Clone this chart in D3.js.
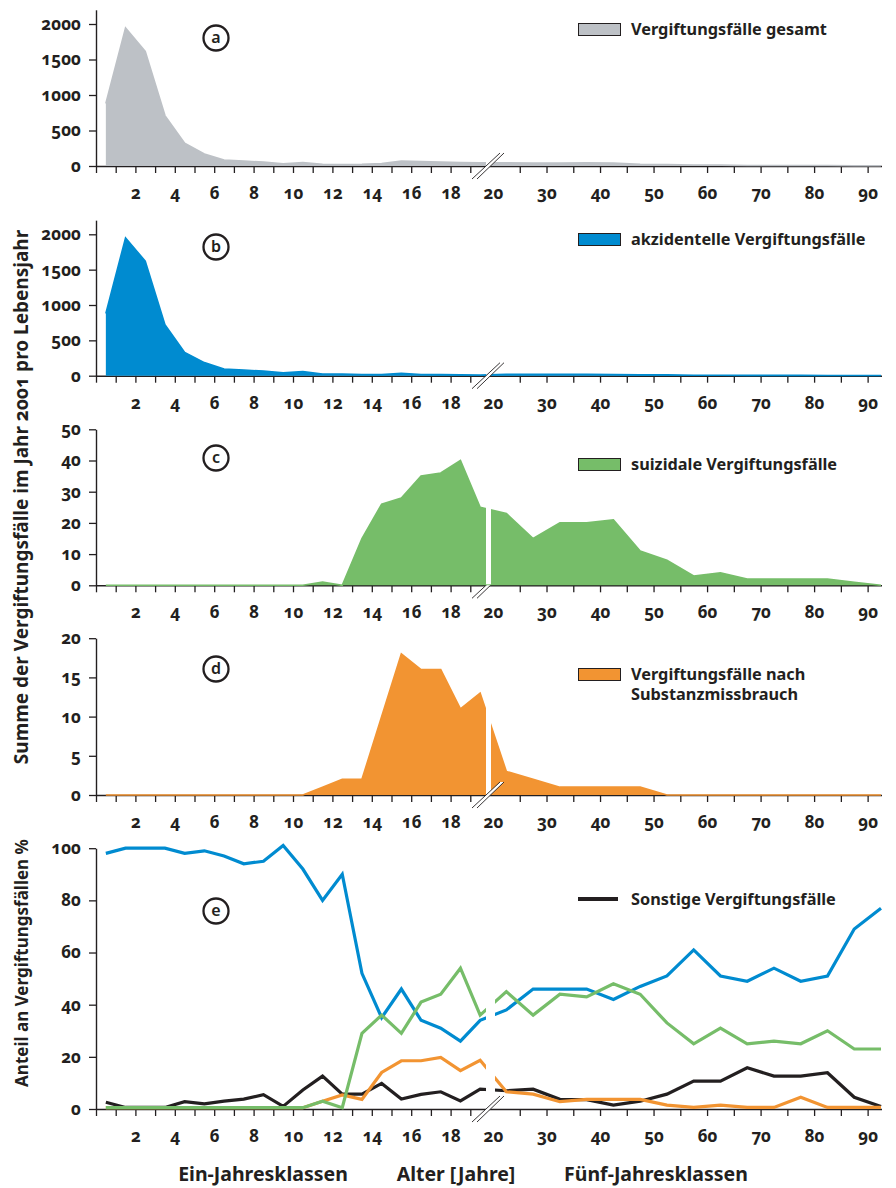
<!DOCTYPE html>
<html>
<head>
<meta charset="utf-8">
<script src="https://cdn.jsdelivr.net/npm/d3@7/dist/d3.min.js"></script>
<style>
  body { margin: 0; background: #fff; }
  svg text { font-family: "Noto Sans", sans-serif; font-weight: 700; fill: #231f20; }
  .num text, text.num { font-variant-numeric: oldstyle-nums; font-feature-settings: "onum" 1; }
</style>
</head>
<body>
<svg id="chart" width="896" height="1188"></svg>
<script>
// age class midpoints: one-year classes 0..19, then five-year classes 20..94
var ages = [0.5, 1.5, 2.5, 3.5, 4.5, 5.5, 6.5, 7.5, 8.5, 9.5,
            10.5, 11.5, 12.5, 13.5, 14.5, 15.5, 16.5, 17.5, 18.5, 19.5,
            22.5, 27.5, 32.5, 37.5, 42.5, 47.5, 52.5, 57.5, 62.5, 67.5,
            72.5, 77.5, 82.5, 87.5, 92.5];

// a) all poisonings
var gesamt = [880, 1945, 1615, 710, 320, 170, 85, 70, 55, 30,
              50, 25, 22, 25, 35, 70, 62, 55, 50, 45,
              45, 40, 42, 44, 40, 25, 22, 12, 12, 8,
              8, 8, 7, 4, 3];
// b) accidental
var akzidentell = [880, 1950, 1620, 720, 330, 185, 95, 80, 65, 40,
                   60, 25, 22, 18, 15, 35, 18, 15, 12, 10,
                   19, 19, 21, 21, 18, 12, 12, 7, 7, 4,
                   4, 4, 3, 3, 2];
// c) suicidal
var suizidal = [0, 0, 0, 0, 0, 0, 0, 0, 0, 0,
                0, 1, 0, 15, 26, 28, 35, 36, 40, 25,
                23, 15, 20, 20, 21, 11, 8, 3, 4, 2,
                2, 2, 2, 1, 0];
// d) substance abuse
var missbrauch = [0, 0, 0, 0, 0, 0, 0, 0, 0, 0,
                  0, 1, 2, 2, 10, 18, 16, 16, 11, 13,
                  3, 2, 1, 1, 1, 1, 0, 0, 0, 0,
                  0, 0, 0, 0, 0];
// e) shares in %
var anteilAkz = [98, 100, 100, 100, 98, 99, 97, 94, 95, 101,
                 92, 80, 90, 52, 35, 46, 34, 31, 26, 34,
                 38, 46, 46, 46, 42, 47, 51, 61, 51, 49,
                 54, 49, 51, 69, 77];
var anteilSuiz = [0.5, 0.5, 0.5, 0.5, 0.5, 0.5, 0.5, 0.5, 0.5, 0.5,
                  0.5, 3, 0.5, 29, 36, 29, 41, 44, 54, 36,
                  45, 36, 44, 43, 48, 44, 33, 25, 31, 25,
                  26, 25, 30, 23, 23];
var anteilMiss = [0.5, 0.5, 0.5, 0.5, 0.5, 0.5, 0.5, 0.5, 0.5, 0.5,
                  0.5, 3, 5.4, 3.7, 14, 18.5, 18.5, 19.8, 14.7, 18.7,
                  6.6, 5.7, 2.8, 3.7, 3.7, 3.7, 1.5, 0.6, 1.5, 0.6,
                  0.6, 4.5, 0.6, 0.6, 0.6];
var anteilSonst = [2.6, 0.6, 0.6, 0.6, 2.8, 2, 3, 3.8, 5.5, 1,
                   7.3, 12.6, 5.7, 5.7, 9.8, 3.8, 5.6, 6.6, 3.1, 7.6,
                   7, 7.6, 3.7, 3.6, 1.5, 3, 5.7, 10.7, 10.7, 15.8,
                   12.6, 12.6, 13.9, 4.5, 1];

// axis ticks and labels
var ticksLeft = [0, 1, 2, 3, 4, 5, 6, 7, 8, 9, 10, 11, 12, 13, 14, 15, 16, 17, 18, 19];
var ticksRight = [20, 25, 30, 35, 40, 45, 50, 55, 60, 65, 70, 75, 80, 85, 90];
var labelsX = [2, 4, 6, 8, 10, 12, 14, 16, 18, 20, 30, 40, 50, 60, 70, 80, 90];

var colGray = "#bdc1c6", colBlue = "#008bd0", colGreen = "#76bd69", colOrange = "#f29432", ink = "#231f20";

var svg = d3.select("#chart");

var xL = d3.scaleLinear().domain([0, 20]).range([96, 490]);
var xR = d3.scaleLinear().domain([20, 92.5]).range([493, 881]);
function xpos(a) { return a <= 20 ? xL(a) : xR(a); }

var panels = [
  {key: "a", base: 166, ticks: [0, 500, 1000, 1500, 2000], data: gesamt, color: colGray,
   ly: 23, label: ["Vergiftungsfälle gesamt"]},
  {key: "b", base: 375.7, ticks: [0, 500, 1000, 1500, 2000], data: akzidentell, color: colBlue,
   ly: 233, label: ["akzidentelle Vergiftungsfälle"]},
  {key: "c", base: 585.3, ticks: [0, 10, 20, 30, 40, 50], data: suizidal, color: colGreen,
   ly: 458, label: ["suizidale Vergiftungsfälle"]},
  {key: "d", base: 795, ticks: [0, 5, 10, 15, 20], data: missbrauch, color: colOrange,
   ly: 668, label: ["Vergiftungsfälle nach", "Substanzmissbrauch"]},
  {key: "e", base: 1109, ticks: [0, 20, 40, 60, 80, 100], data: null, color: ink,
   ly: 893, label: ["Sonstige Vergiftungsfälle"]}
];
var pxPerUnit = {a: 0.071, b: 0.0707, c: 3.12, d: 7.84, e: 2.608};
var axisTop = {a: 2200, b: 2200, c: 50, d: 20, e: 100};
var circleY = {a: 38, b: 247, c: 458, d: 669, e: 911};

panels.forEach(function(p) {
  var top = p.base - pxPerUnit[p.key] * axisTop[p.key];
  var y = d3.scaleLinear().domain([0, axisTop[p.key]]).range([p.base, top]);
  var g = svg.append("g");

  // x axis, two segments either side of the break
  var axL = g.append("g").attr("class", "num").attr("transform", "translate(0," + p.base + ")")
    .call(d3.axisBottom(xL).tickValues(ticksLeft).tickSize(7).tickSizeOuter(0)
      .tickFormat(function(d) { return labelsX.indexOf(d) >= 0 ? d : ""; }));
  var axR = g.append("g").attr("class", "num").attr("transform", "translate(0," + p.base + ")")
    .call(d3.axisBottom(xR).tickValues(ticksRight).tickSize(7).tickSizeOuter(0)
      .tickFormat(function(d) { return labelsX.indexOf(d) >= 0 ? d : ""; }));
  [axL, axR].forEach(function(ax) {
    ax.select(".domain").remove();
    ax.selectAll("line").attr("stroke", ink).attr("stroke-width", 1.3);
    ax.selectAll(".tick").filter(function(d) { return d === 20; }).select("line").remove();
    ax.selectAll("text").attr("y", 33).attr("dy", 0)
      .style("font-size", "17px").style("font-family", "'Noto Sans', sans-serif")
      .style("font-weight", 700).attr("fill", ink);
  });
  g.append("line").attr("x1", xL(0)).attr("x2", xR(92.5) + 1)
    .attr("y1", p.base + 0.5).attr("y2", p.base + 0.5)
    .attr("stroke", ink).attr("stroke-width", 1.4);

  // y axis
  var ay = g.append("g").attr("class", "num").attr("transform", "translate(" + xL(0) + ",0)")
    .call(d3.axisLeft(y).tickValues(p.ticks).tickSize(7).tickSizeOuter(0).tickPadding(8)
      .tickFormat(d3.format("d")));
  ay.select(".domain").attr("stroke", ink).attr("stroke-width", 1.4);
  ay.selectAll("line").attr("stroke", ink).attr("stroke-width", 1.3);
  ay.selectAll("text").style("font-size", "17px").style("font-family", "'Noto Sans', sans-serif")
    .style("font-weight", 700).attr("fill", ink);

  function brk() {
    var b = p.base;
    g.append("polygon")
      .attr("points", [[472, b + 13], [500, b - 13], [504, b - 13], [477, b + 13]].join(" "))
      .attr("fill", "#fff");
    [[472, 500], [477, 504]].forEach(function(s) {
      g.append("line").attr("x1", s[0]).attr("y1", b + 13).attr("x2", s[1]).attr("y2", b - 13)
        .attr("stroke", ink).attr("stroke-width", 0.9);
    });
  }

  if (p.data) {
    if (p.key === "c") brk();
    var area = d3.area().x(function(d, i) { return xpos(ages[i]); })
      .y0(p.base).y1(function(d) { return y(d); });
    var line = d3.line().x(function(d, i) { return xpos(ages[i]); }).y(function(d) { return y(d); });
    g.append("path").datum(p.data).attr("d", area).attr("fill", p.color);
    g.append("path").datum(p.data).attr("d", line).attr("fill", "none")
      .attr("stroke", p.color).attr("stroke-width", 1.6);
    g.append("rect").attr("x", 486).attr("y", top).attr("width", 5).attr("height", p.base - top - 1)
      .attr("fill", "#fff");
    if (p.key !== "c") brk();
  } else {
    var series = [[anteilSonst, ink], [anteilMiss, colOrange], [anteilAkz, colBlue], [anteilSuiz, colGreen]];
    var line2 = d3.line().x(function(d, i) { return xpos(ages[i]); }).y(function(d) { return y(d); });
    series.forEach(function(s) {
      g.append("path").datum(s[0]).attr("d", line2).attr("fill", "none")
        .attr("stroke", s[1]).attr("stroke-width", 3.2);
    });
    g.append("rect").attr("x", 486).attr("y", top - 5).attr("width", 9).attr("height", p.base - top + 3)
      .attr("fill", "#fff");
    brk();
  }

  // panel letter
  g.append("circle").attr("cx", 216).attr("cy", circleY[p.key]).attr("r", 12.5)
    .attr("fill", "#fff").attr("stroke", ink).attr("stroke-width", 2.3);
  g.append("text").attr("x", 216).attr("y", circleY[p.key]).attr("dy", "0.34em")
    .attr("text-anchor", "middle").style("font-size", "16px").style("font-weight", 600)
    .text(p.key);

  // legend
  if (p.data) {
    g.append("rect").attr("x", 578.5).attr("y", p.ly + 0.5).attr("width", 42).attr("height", 12)
      .attr("fill", p.color).attr("stroke", ink).attr("stroke-width", 1);
  } else {
    g.append("line").attr("x1", 578).attr("x2", 618).attr("y1", p.ly + 6).attr("y2", p.ly + 6)
      .attr("stroke", ink).attr("stroke-width", 4);
  }
  p.label.forEach(function(t, i) {
    g.append("text").attr("x", 631).attr("y", p.ly + 12 + i * 20)
      .style("font-size", "16.3px").text(t);
  });
});

// axis titles
svg.append("text").attr("transform", "translate(28,497) rotate(-90)").attr("text-anchor", "middle")
  .attr("class", "num").style("font-size", "19px")
  .text("Summe der Vergiftungsfälle im Jahr 2001 pro Lebensjahr");
svg.append("text").attr("transform", "translate(28,963) rotate(-90)").attr("text-anchor", "middle")
  .style("font-size", "17px").text("Anteil an Vergiftungsfällen %");

[["Ein-Jahresklassen", 263], ["Alter [Jahre]", 456], ["Fünf-Jahresklassen", 656]].forEach(function(t) {
  svg.append("text").attr("x", t[1]).attr("y", 1181).attr("text-anchor", "middle")
    .style("font-size", "19.5px").text(t[0]);
});
</script>
</body>
</html>
